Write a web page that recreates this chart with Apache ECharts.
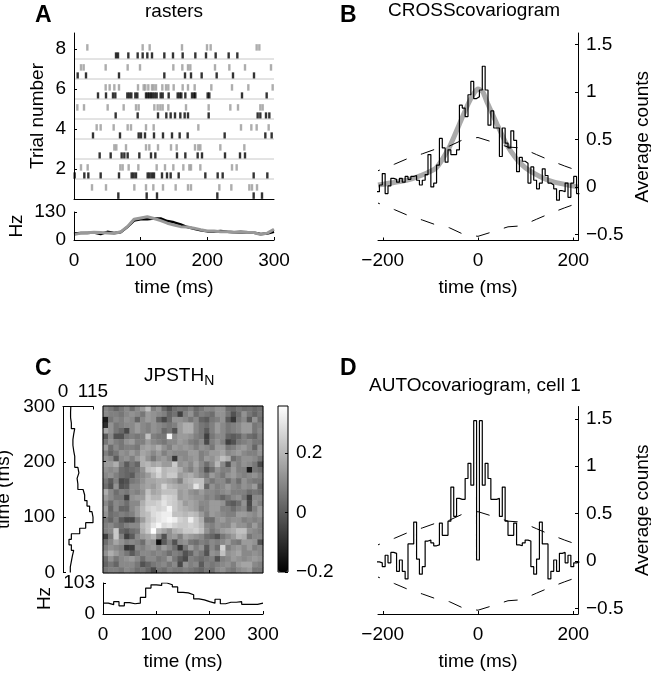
<!DOCTYPE html>
<html><head><meta charset="utf-8">
<style>html,body{margin:0;padding:0;background:#fff}#c{width:651px;height:674px}</style>
<script src="https://cdn.jsdelivr.net/npm/echarts@6/dist/echarts.min.js"></script>
</head><body><div id="c"></div>
<script>
// ---------- Panel A: spike times (ms), index 0 = trial 1 ----------
const rasterBlack = [
 [66.5,109,124.5,215,269.5,282],
 [1,15.5,21.5,40,67.5,86.5,89.5,93,110.5,113.5,117,120,132,139.5,145,157,197,215.5,223,269.5,290],
 [38.5,55,71.5,75.5,80.5,98,115.5,122,154.5,167,185.5,192,226.5,249,256.5],
 [28.5,69,97,100.5,106.5,120,133.5,147,158.5,170.5,226,287,296.5],
 [62.5,95.5,126,138.5,145,151.5,159.5,166,171,202,275.5,279.5,288,293],
 [36,48,58.5,62,80,83,86,92,95,108,110.5,113,115.5,118,121,124,130,133,142,155.5,158.5,161,167,177,180,182,200.5,203,252,289],
 [5.5,18,67.5,135.5,166.5,175.5,191.5,214,238.5,270],
 [63,66,81.5,95.5,103,110,117,135.5,148.5,163,182,198,212.5,232,245]
];
const rasterGrey = [
 [27,48,90.5,108,119,133.5,152.5,171,175.5,218,236,263,267,274.5],
 [10.5,20.5,69.5,73,82,96.5,124,136.5,149,164,173,175.5,189.5,237,244],
 [60.5,63.5,78,108,113,126,145.5,154,181.5,186.5,189.5,219.5,255.5],
 [34,40,59.5,80.5,85.5,108,119.5,186.5,250.5,266,274,292],
 [5,15,50.5,74.5,93,97,120.5,125.5,129.5,133,141.5,168,202,234.5,246,279.5,283],
 [47.5,53.5,60.5,67.5,96,104.5,107,111.5,117,119.5,123,132.5,138,141.5,149.5,163,171,181,206,237,261.5,298],
 [10.5,14.5,47.5,80.5,99,149,162.5,171,174.5,211.5,233,256.5,295.5],
 [20,103,113.5,162,199.5,205,274,278]
];
const trialSeparators = [1.5,2.5,3.5,4.5,5.5,6.5,7.5];
const rateTimes = [0,10,20,30,40,50,60,70,80,90,100,110,120,130,140,150,160,170,180,190,200,210,220,230,240,250,260,270,280,290,300];
const rateBlack = [30,33,32,35,28,38,33,36,60,90,96,96,100,100,88,82,72,60,52,45,40,40,42,38,36,36,36,34,28,30,38];
const rateGrey  = [25,32,34,36,35,32,30,38,62,96,102,108,100,90,78,70,62,60,55,48,42,42,38,38,36,40,36,35,25,32,50];

// ---------- Panels B and D: covariograms, 6 ms bins from -213 ms ----------
const crossCounts = [-.05,.02,.14,-.07,.01,.09,.08,.05,.09,.05,.11,.08,.11,.12,.07,.02,.07,.13,.34,0,.04,.23,.51,.41,.26,.39,.34,.34,.39,.86,.83,.74,.97,1.11,.93,
 .95,1.02,1.27,1.02,.65,.8,.62,.62,.32,.62,.46,.41,.59,.49,.16,.31,.27,.25,.04,.21,.07,-.02,.04,.19,.12,.04,.02,-.02,-.14,-.04,-.05,.04,-.11,.04,.11,-.07];
const autoCounts = [-.01,-.02,-.06,.06,-.02,.09,.08,-.11,.01,-.11,-.19,.18,.18,.41,.02,-.14,-.06,.21,.22,.19,.16,.17,.4,.27,.27,.42,.78,.47,.66,.65,.65,.87,1.03,.8,1.48,
 .01,1.48,.8,1.03,.87,.65,.65,.66,.47,.78,.42,.27,.27,.4,.17,.16,.19,.22,.21,-.06,-.14,.02,.41,.18,.18,-.19,-.11,.01,-.11,.08,.09,-.02,.06,-.06,-.02,-.01];
const fitLags = [-210,-150,-120,-88,-60,-40,-20,-8,0,10,20,40,60,80,100,130,160,210];
const fitCounts = [.02,.07,.12,.2,.42,.65,.88,.99,1.03,1,.88,.66,.45,.3,.2,.11,.05,0];
const boundLags = [-210,-175,-147,-116,-88,-60,-30,0,32,63,91,123,151,182,210];
const boundUpper = [.17,.24,.3,.35,.4,.43,.5,.52,.47,.42,.41,.34,.28,.22,.17];
const boundLower = [-.17,-.24,-.3,-.35,-.4,-.43,-.5,-.52,-.47,-.42,-.41,-.34,-.28,-.22,-.17];

// ---------- Panel C ----------
const psthLeft = [28,32,36,41,32,23,32,64,87,115,111,102,92,83,77,57,54,61,57,45,45,41,38,38,41,45,32,29,29,30];
const psthBottom = [36,31,41,27,38,34,36,55,86,97,95,103,97,90,72,70,64,50,47,41,36,49,34,39,39,41,32,32,32,36];
// JPSTH values in hundredths, top row first
const jpsthRows = [
 [9,6,2,6,10,4,10,14,22,8,12,3,-2,4,6,5,8,3,6,10,9,12,12,4,3,6,4,5,3,5],
 [10,8,8,6,10,12,10,6,14,12,10,8,2,5,-6,8,12,4,8,6,4,12,12,6,-2,4,12,6,2,6],
 [-14,6,10,8,12,10,2,10,14,12,2,-4,3,12,12,10,6,10,2,0,6,8,12,0,-8,6,10,0,12,4],
 [-10,12,6,8,10,10,14,10,8,12,10,8,6,8,14,18,18,10,6,4,8,14,10,6,8,10,14,14,6,8],
 [16,12,6,3,-4,10,14,10,8,12,10,3,6,-2,14,18,18,10,6,0,8,14,10,6,8,10,14,14,6,10],
 [0,10,-2,-2,6,8,6,8,22,8,6,6,34,10,14,14,12,8,6,-6,6,10,10,2,0,2,8,4,2,8],
 [6,12,8,6,12,14,8,8,14,10,8,6,10,10,14,12,8,6,10,-4,8,12,8,-6,-2,6,8,10,6,6],
 [14,4,10,6,8,8,6,14,16,14,18,12,8,14,12,14,12,8,12,10,6,14,14,6,8,12,14,10,2,12],
 [8,2,6,12,10,14,10,16,14,10,14,8,12,10,10,10,14,14,8,10,14,14,16,10,12,14,10,8,8,12],
 [12,10,0,10,12,8,14,18,12,6,12,14,10,-8,12,10,12,14,8,14,12,16,22,18,4,8,12,12,10,6],
 [14,14,18,8,0,6,2,18,20,16,18,14,14,24,12,14,10,16,10,4,10,20,10,-2,12,8,12,10,6,-4],
 [12,10,12,4,2,4,6,12,22,24,28,20,22,22,18,12,8,14,8,-2,4,12,8,8,14,8,8,-14,6,4],
 [10,12,8,4,2,0,8,10,14,20,26,20,24,24,14,16,18,14,10,6,14,10,6,12,14,10,8,10,12,8],
 [6,0,8,-4,-2,6,8,12,16,16,18,18,16,14,8,18,20,22,22,10,6,10,10,4,10,4,12,8,6,6],
 [4,-2,12,-2,0,10,10,14,16,14,18,26,20,18,16,16,18,30,22,2,12,8,10,14,10,8,12,10,14,2],
 [18,10,4,8,6,10,8,12,22,16,18,22,22,22,14,16,12,10,14,10,10,8,10,12,8,8,8,4,6,4],
 [14,10,6,6,-6,12,14,14,24,20,20,28,26,24,14,16,14,12,12,8,10,6,2,6,10,12,6,-6,10,10],
 [10,4,10,8,4,10,10,18,24,24,26,30,26,24,20,14,16,14,10,10,14,14,12,2,0,4,12,-4,12,8],
 [14,2,10,2,2,10,14,20,26,28,26,28,34,24,20,18,16,14,8,10,14,14,8,8,4,8,10,-2,8,14],
 [12,4,6,8,6,8,14,20,22,28,30,32,32,22,22,20,22,20,14,8,14,12,10,8,8,14,14,12,10,14],
 [6,2,8,0,-4,-4,6,14,22,26,30,32,34,32,26,24,32,24,18,4,4,12,14,10,12,12,8,10,8,10],
 [8,10,6,4,8,10,10,20,24,30,34,28,30,26,24,24,26,24,20,10,8,12,10,10,16,12,12,8,14,8],
 [8,10,24,2,0,4,6,18,24,36,20,16,12,18,20,24,24,26,22,12,6,10,14,16,18,22,22,12,10,8],
 [-6,6,24,8,-6,0,10,14,16,20,10,-2,12,14,8,16,14,12,10,4,2,-2,6,10,14,20,18,6,10,10],
 [4,10,16,12,8,10,8,4,14,12,-16,0,8,-2,10,12,6,4,8,6,10,8,10,14,8,6,14,14,12,-2],
 [8,12,10,8,-8,-6,10,8,12,14,8,14,10,4,-8,6,14,8,12,0,10,4,26,8,12,14,10,14,8,10],
 [12,18,14,10,6,0,6,10,10,8,10,8,4,8,6,-2,2,10,6,-2,12,10,22,12,14,16,10,10,12,10],
 [4,12,6,10,12,14,10,4,10,10,6,8,14,6,0,-4,8,6,4,6,8,-2,8,10,14,12,10,12,14,12],
 [2,6,2,10,10,10,6,-2,2,6,8,10,6,10,-4,12,8,10,0,8,6,8,10,12,8,14,16,16,10,8],
 [6,8,8,6,10,8,4,6,2,-4,6,4,8,6,6,8,6,4,2,6,4,10,12,8,6,10,12,14,6,6]
];

// ---------- Tick labels ----------
const ticksTrial = [2,4,6,8];
const ticksTime = [0,100,200,300];
const ticksLag = [-200,0,200];
const ticksCounts = [-0.5,0,0.5,1,1.5];
const ticksColor = [-0.2,0,0.2];

const FONT = '"Liberation Sans", Arial, sans-serif';
const FS = 19;
const minus = v => String(v).replace('-', '\u2212');
const stepBins = (start, width, vals) => vals.flatMap((v,i)=>[[start+i*width,v],[start+(i+1)*width,v]]);

function axis(o){
  const ticks = o.ticks || null;
  const labels = o.labels === undefined ? ticks : o.labels;
  const a = {
    type:'value', gridIndex:o.grid, min:o.min, max:o.max, position:o.pos, z:6,
    splitLine:{show:false},
    axisLine:{show:o.line!==false, onZero:false, lineStyle:{color:'#000',width:1}},
    axisTick:{show:!!ticks, inside:true, length:3, lineStyle:{color:'#000',width:1}, customValues:ticks||[]},
    axisLabel:{show:!!labels, customValues:labels||[], color:'#000', fontFamily:FONT, fontSize:FS, margin:o.margin||8,
      hideOverlap:false, showMinLabel:true, showMaxLabel:true, formatter:minus}
  };
  if(o.name){
    Object.assign(a,{name:o.name,nameLocation:'middle',nameGap:o.gap,nameRotate:o.rotate,
      nameTextStyle:{color:'#000',fontFamily:FONT,fontSize:FS}});
  }
  return a;
}
const grids = [
 {left:74,top:33,width:200,height:166},      // 0 raster
 {left:74,top:212,width:200,height:28},      // 1 rate
 {left:378,top:33,width:200,height:207.5},   // 2 B
 {left:63,top:406.5,width:30,height:166},    // 3 C left hist
 {left:103,top:406,width:160,height:167,show:true,borderColor:'#000',borderWidth:1,z:5}, // 4 heat
 {left:278,top:406,width:10,height:166,show:true,borderColor:'#000',borderWidth:1,z:5},  // 5 colorbar
 {left:103,top:583,width:160,height:31},     // 6 C bottom hist
 {left:378,top:406.5,width:200,height:207.5} // 7 D
].map(g=>Object.assign({containLabel:false,outerBoundsMode:'none'},g));

const xAxes = [
 axis({grid:0,min:0,max:300,pos:'bottom'}),
 axis({grid:1,min:0,max:300,pos:'bottom',ticks:ticksTime,name:'time (ms)',gap:38,margin:11}),
 axis({grid:2,min:-210,max:210,pos:'bottom',ticks:ticksLag,name:'time (ms)',gap:38,margin:11}),
 axis({grid:3,min:0,max:115,pos:'top',ticks:[0,115],margin:5}),
 axis({grid:4,min:0,max:300,pos:'bottom',ticks:[100,200],labels:null,line:false}),
 axis({grid:5,min:0,max:1,pos:'bottom',line:false}),
 axis({grid:6,min:0,max:300,pos:'bottom',ticks:ticksTime,name:'time (ms)',gap:38,margin:11}),
 axis({grid:7,min:-210,max:210,pos:'bottom',ticks:ticksLag,name:'time (ms)',gap:38,margin:11}),
 {type:'category',gridIndex:4,data:jpsthRows[0].map((_,i)=>i),show:false}        // 8
];
const yAxes = [
 axis({grid:0,min:0.5,max:8.8,pos:'left',ticks:ticksTrial,name:'Trial number',gap:27,rotate:90}),
 axis({grid:1,min:0,max:130,pos:'left',ticks:[0,130],name:'Hz',gap:48,rotate:90}),
 axis({grid:2,min:-0.564,max:1.62,pos:'right',ticks:ticksCounts,name:'Average counts',gap:55,rotate:90}),
 axis({grid:3,min:0,max:300,pos:'left',ticks:ticksTime,name:'time (ms)',gap:50,rotate:90}),
 axis({grid:4,min:0,max:300,pos:'left',ticks:[100,200],labels:null,line:false}),
 axis({grid:5,min:-0.2,max:0.358,pos:'right',ticks:ticksColor,line:false}),
 axis({grid:6,min:0,max:103,pos:'left',ticks:[0,103],name:'Hz',gap:49,rotate:90}),
 axis({grid:7,min:-0.56,max:1.63,pos:'right',ticks:ticksCounts,name:'Average counts',gap:55,rotate:90}),
 {type:'category',gridIndex:4,data:jpsthRows.map((_,i)=>i),inverse:true,show:false} // 8
];

const line = (x,y,data,color,width,extra) => Object.assign({type:'line',xAxisIndex:x,yAxisIndex:y,data,
  symbol:'none',silent:true,animation:false,clip:true,lineStyle:{color,width}},extra||{});
const dashed = {lineStyle:{color:'#000',width:1,type:[14,15],dashOffset:12}};
const zipXY = (xs,ys)=>xs.map((x,i)=>[x,ys[i]]);

const series = [];
trialSeparators.forEach(t=>series.push(line(0,0,[[0,t],[300,t]],'#c8c8c8',1)));
const dots = (rows,off,color)=>({type:'scatter',xAxisIndex:0,yAxisIndex:0,symbol:'rect',symbolSize:[2.4,6.5],
  itemStyle:{color},animation:false,silent:true,
  data:rows.flatMap((r,i)=>r.map(t=>[t,i+1+off]))});
series.push(dots(rasterGrey,0.08,'#999999'), dots(rasterBlack,-0.33,'#000'));
series.push(line(1,1,zipXY(rateTimes,rateBlack),'#000',2.5));
series.push(line(1,1,zipXY(rateTimes,rateGrey),'#999999',3));
series.push(line(2,2,zipXY(fitLags,fitCounts),'#aaaaaa',5,{smooth:0.2}));
series.push(line(2,2,zipXY(boundLags,boundUpper),'#000',1,dashed));
series.push(line(2,2,zipXY(boundLags,boundLower),'#000',1,dashed));
series.push(line(2,2,stepBins(-213,6,crossCounts),'#000',1.2));
series.push(line(3,3,stepBins(0,10,psthLeft).map(p=>[p[1],p[0]]),'#000',1.2));
series.push({type:'heatmap',xAxisIndex:8,yAxisIndex:8,animation:false,silent:true,
  data:jpsthRows.flatMap((r,j)=>r.map((v,i)=>[i,j,v/100]))});
series.push(line(5,5,[],'#000',1));
series.push(line(4,4,[],'#000',1));
series.push(line(6,6,stepBins(0,10,psthBottom),'#000',1.2));
series.push(line(7,7,zipXY(boundLags,boundUpper),'#000',1,dashed));
series.push(line(7,7,zipXY(boundLags,boundLower),'#000',1,dashed));
series.push(line(7,7,stepBins(-213,6,autoCounts),'#000',1.2));

const T = (text,left,top,size,weight,extra)=>Object.assign({text,left,top,padding:0,itemGap:0,
  textStyle:{color:'#000',fontFamily:FONT,fontSize:size,fontWeight:weight||'normal'}},extra||{});
const option = {
  animation:false,
  backgroundColor:'#fff',
  title:[
    T('A',35,4,23,'bold'), T('B',340,4,23,'bold'), T('C',35,357,23,'bold'), T('D',340,357,23,'bold'),
    T('rasters',145,2,FS), T('CROSScovariogram',388,1,FS),
    T('{a|JPSTH}{b|N}',144,364,FS,'normal',{textStyle:{color:'#000',fontFamily:FONT,fontSize:FS,fontWeight:'normal',rich:{
      a:{fontFamily:FONT,fontSize:FS,color:'#000',fontWeight:'normal'},
      b:{fontFamily:FONT,fontSize:14,color:'#000',fontWeight:'normal',verticalAlign:'bottom',padding:[10,0,0,0]}}}}),
    T('AUTOcovariogram, cell 1',369,376,FS)
  ],
  grid:grids, xAxis:xAxes, yAxis:yAxes, series,
  visualMap:{type:'continuous',min:-0.2,max:0.358,seriesIndex:series.findIndex(s=>s.type==='heatmap'),
    inRange:{color:['#000','#fff']},calculable:false,orient:'vertical',left:278,top:406,itemWidth:10,itemHeight:166,
    padding:0,text:null,showLabel:false,z:1,hoverLink:false}
};
echarts.init(document.getElementById('c'),null,{renderer:'canvas'}).setOption(option);
</script></body></html>
